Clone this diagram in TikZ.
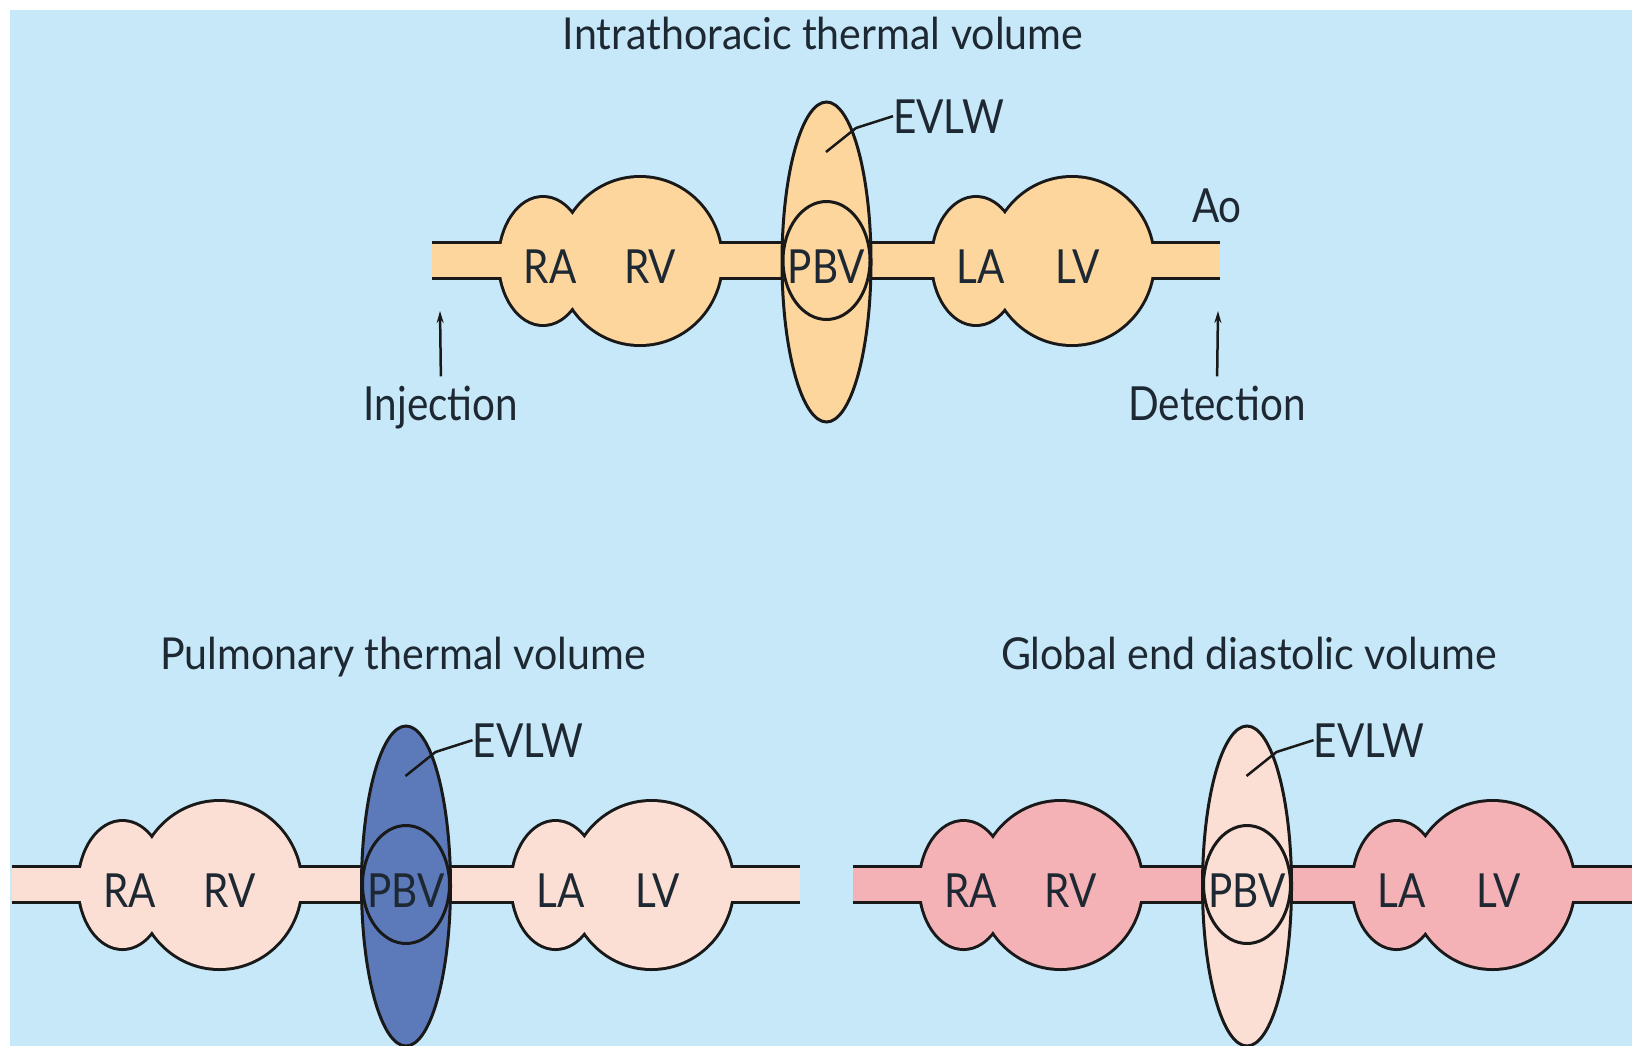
\documentclass[tikz,border=0pt]{standalone}
\usepackage{fontspec}
\setmainfont{Lato}[FakeStretch=0.86]
\newfontfamily\titlefont{Lato}[FakeStretch=0.935]
\usetikzlibrary{arrows.meta}
\definecolor{bgblue}{RGB}{198,232,249}
\definecolor{peach}{RGB}{253,214,158}
\definecolor{lightpink}{RGB}{251,223,212}
\definecolor{evblue}{RGB}{92,122,186}
\definecolor{rose}{RGB}{244,178,182}
\definecolor{ink}{RGB}{25,25,25}
\definecolor{txt}{RGB}{30,40,50}
\tikzset{
  lbl/.style={font=\fontsize{47}{56}\selectfont, text=txt, inner sep=0pt, anchor=base},
  ttl/.style={font=\titlefont\fontsize{44}{52}\selectfont, text=txt, inner sep=0pt, anchor=base},
  outl/.style={draw=ink, line width=3pt},
  leader/.style={draw=ink, line width=2.5pt},
  uparrow/.style={draw=ink, line width=2.5pt, -{Stealth[length=12pt,width=7pt]}, shorten <=9pt},
}
\newcommand\chambers{%
  (543,261) ellipse [x radius=43, y radius=63]
  (640,261) ellipse [x radius=81, y radius=83]
  (976,261) ellipse [x radius=43, y radius=63]
  (1072,261) ellipse [x radius=81, y radius=83]}
% #1 chamber fill, #2 EVLW fill, #3 name prefix
\newcommand\heartrow[3]{%
  \draw[ink, line width=6pt] \chambers;
  \fill[#1] (432,242) rectangle (1220,278);
  \draw[ink, line width=3pt] (432,242) -- (1220,242) (432,278) -- (1220,278);
  \fill[#1] \chambers;
  \draw[outl, fill=#2] (826.5,262) ellipse [x radius=44.5, y radius=160];
  \draw[outl] (826.5,260.5) ellipse [x radius=43.5, y radius=59];
  \node[lbl] (#3ra) at (550,283) {RA};
  \node[lbl] (#3rv) at (650,283) {RV};
  \node[lbl] (#3pbv) at (826.5,283) {PBV};
  \node[lbl] (#3la) at (981,283) {LA};
  \node[lbl] (#3lv) at (1078,283) {LV};
  \node[lbl, anchor=base west] (#3evlw) at (893,133) {EVLW};
  \coordinate (#3lead) at (826,152);
  \draw[leader] (#3lead) -- (856,128) -- (#3evlw.west);
}
\begin{document}
\begin{tikzpicture}[x=1pt,y=-1pt]
  \useasboundingbox (0,0) rectangle (1632,1046);
  \fill[white] (0,0) rectangle (1632,1046);
  \fill[bgblue] (10,10) rectangle (1632,1046);
  \clip (10,10) rectangle (1632,1046);
  % top diagram
  \heartrow{peach}{peach}{t}
  \node[ttl] (ttop) at (823,50) {Intrathoracic thermal volume};
  \node[lbl] (ao) at (1217,222) {Ao};
  \node[lbl] (inj) at (441,420) {Injection};
  \node[lbl] (det) at (1217,420) {Detection};
  \coordinate (injtip) at (440,311);
  \coordinate (dettip) at (1218,311);
  \draw[uparrow] (inj.north) -- (injtip);
  \draw[uparrow] (det.north) -- (dettip);
  % bottom left
  \begin{scope}[shift={(-420.5,624)}]
    \heartrow{lightpink}{evblue}{l}
  \end{scope}
  \node[ttl] (tleft) at (403,669) {Pulmonary thermal volume};
  % bottom right
  \begin{scope}[shift={(420.5,624)}]
    \heartrow{rose}{lightpink}{r}
  \end{scope}
  \node[ttl] (tright) at (1249,669) {Global end diastolic volume};
\end{tikzpicture}
\end{document}
